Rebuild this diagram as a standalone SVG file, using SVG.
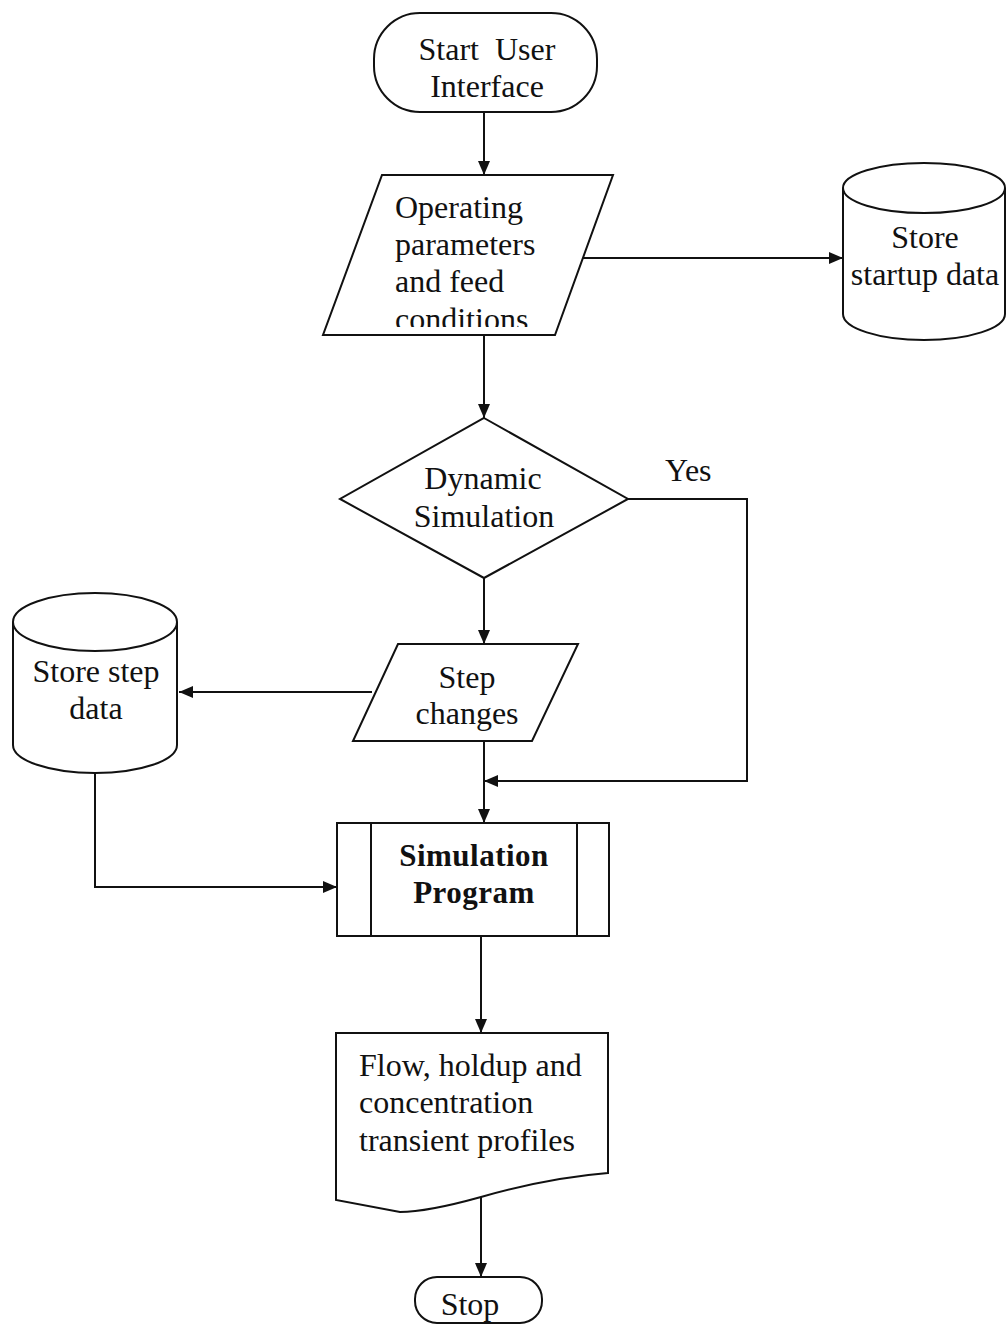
<svg xmlns="http://www.w3.org/2000/svg" width="1006" height="1326" viewBox="0 0 1006 1326">
  <defs>
    <marker id="arrow" viewBox="0 0 14 12" refX="14" refY="6" markerWidth="14" markerHeight="12" markerUnits="userSpaceOnUse" orient="auto">
      <path d="M0,0 L14,6 L0,12 Z" fill="#111"/>
    </marker>
    <clipPath id="clip-operating">
      <rect x="320" y="170" width="300" height="157"/>
    </clipPath>
    <style>
      .shape { fill: #fff; stroke: #111; stroke-width: 2; }
      .line { fill: none; stroke: #111; stroke-width: 2; }
      .arrowed { marker-end: url(#arrow); }
      text { font-family: "Liberation Serif", "Times New Roman", serif; font-size: 32px; fill: #111; }
      .c { text-anchor: middle; }
      .b { font-weight: bold; font-size: 31px; letter-spacing: 0.5px; }
    </style>
  </defs>
  <rect width="1006" height="1326" fill="#fff"/>

  <!-- connectors -->
  <g id="connectors">
    <line class="line arrowed" x1="484" y1="112" x2="484" y2="175"/>
    <line class="line arrowed" x1="583" y1="258" x2="843" y2="258"/>
    <line class="line arrowed" x1="484" y1="336" x2="484" y2="418"/>
    <line class="line arrowed" x1="484" y1="578" x2="484" y2="644"/>
    <line class="line arrowed" x1="372" y1="692" x2="179" y2="692"/>
    <polyline class="line arrowed" points="628,499 747,499 747,781 484,781"/>
    <line class="line arrowed" x1="484" y1="741" x2="484" y2="823"/>
    <polyline class="line arrowed" points="95,773 95,887 337,887"/>
    <line class="line arrowed" x1="481" y1="936" x2="481" y2="1033"/>
    <line class="line arrowed" x1="481" y1="1197" x2="481" y2="1277"/>
    <text x="665" y="481">Yes</text>
  </g>

  <!-- start terminal -->
  <g id="start">
    <rect class="shape" x="374" y="13" width="223" height="99" rx="46" ry="46"/>
    <text class="c" x="487" y="60">Start&#160; User</text>
    <text class="c" x="487" y="97">Interface</text>
  </g>

  <!-- operating parameters input -->
  <g id="operating">
    <polygon class="shape" points="382,175 613,175 555,335 323,335"/>
    <g clip-path="url(#clip-operating)">
      <text x="395" y="218">Operating</text>
      <text x="395" y="255">parameters</text>
      <text x="395" y="292">and feed</text>
      <text x="395" y="330">conditions</text>
    </g>
  </g>

  <!-- startup data store -->
  <g id="startup-store">
    <path class="shape" d="M843,188 V314 A81,26 0 0 0 1005,314 V188"/>
    <ellipse class="shape" cx="924" cy="188" rx="81" ry="25"/>
    <text class="c" x="925" y="248">Store</text>
    <text class="c" x="925" y="285">startup data</text>
  </g>

  <!-- decision -->
  <g id="decision">
    <polygon class="shape" points="484,418 628,499 484,578 340,499"/>
    <text class="c" x="483" y="489">Dynamic</text>
    <text class="c" x="484" y="527">Simulation</text>
  </g>

  <!-- step changes input -->
  <g id="step-changes">
    <polygon class="shape" points="398,644 578,644 532,741 353,741"/>
    <text class="c" x="467" y="688">Step</text>
    <text class="c" x="467" y="724">changes</text>
  </g>

  <!-- step data store -->
  <g id="step-store">
    <path class="shape" d="M13,622 V745 A82,28 0 0 0 177,745 V622"/>
    <ellipse class="shape" cx="95" cy="622" rx="82" ry="29"/>
    <text class="c" x="96" y="682">Store step</text>
    <text class="c" x="96" y="719">data</text>
  </g>

  <!-- predefined process -->
  <g id="simulation-program">
    <rect class="shape" x="337" y="823" width="272" height="113"/>
    <line class="line" x1="371" y1="823" x2="371" y2="936"/>
    <line class="line" x1="577" y1="823" x2="577" y2="936"/>
    <text class="c b" x="474" y="866">Simulation</text>
    <text class="c b" x="474" y="903">Program</text>
  </g>

  <!-- output document -->
  <g id="profiles">
    <path class="shape" d="M336,1033 H608 V1173 C570,1176 530,1183 481,1197 C445,1207 420,1212 400,1212 L336,1200 Z"/>
    <text x="359" y="1076">Flow, holdup and</text>
    <text x="359" y="1113">concentration</text>
    <text x="359" y="1151">transient profiles</text>
  </g>

  <!-- stop terminal -->
  <g id="stop">
    <rect class="shape" x="415" y="1277" width="127" height="46" rx="22" ry="22"/>
    <text class="c" x="470" y="1315">Stop</text>
  </g>
</svg>
